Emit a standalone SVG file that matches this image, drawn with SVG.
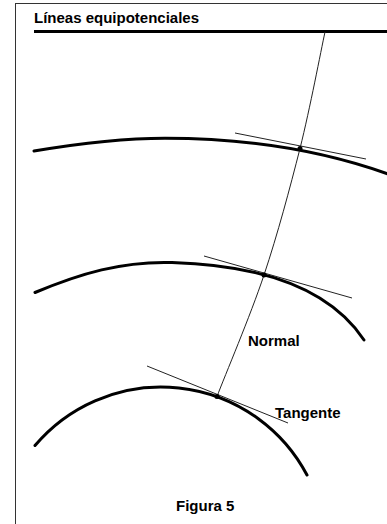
<svg xmlns="http://www.w3.org/2000/svg" width="387" height="524" viewBox="0 0 387 524">
<style>
.t{font-family:"Liberation Sans",Arial,sans-serif;font-weight:bold;font-size:15px;fill:#000}
.arc{fill:none;stroke:#000;stroke-width:3;stroke-linecap:round}
.thin{fill:none;stroke:#222;stroke-width:1}
.dot{fill:#000}
</style>
<rect width="387" height="524" fill="#fff"/>
<g id="frame">
<line x1="15.5" y1="3.5" x2="15.5" y2="524" stroke="#333" stroke-width="1"/>
<line x1="15" y1="3.5" x2="387" y2="3.5" stroke="#333" stroke-width="1"/>
<text class="t" x="34" y="23">Líneas equipotenciales</text>
<line x1="34" y1="31.5" x2="387" y2="31.5" stroke="#000" stroke-width="3"/>
</g>
<g id="equipotential1">
<path class="arc" d="M34,151 C79,143.4 120,138.2 165,138.2 C240,138.2 314,147.3 389,174.3"/>
</g>
<g id="equipotential2">
<path class="arc" d="M35,292.5 C80,273.6 122,261 172,262.5 C242,264.6 324,280 364,340"/>
</g>
<g id="equipotential3">
<path class="arc" d="M35,445.5 A165,165 0 0 1 307,475"/>
</g>
<g id="connectors">
<path class="thin" d="M325,32 C320.8,51.3 310.2,107.5 300,148.5 C289.8,188.5 277.8,233.7 264,275 C250.2,316.3 224.8,375.8 217,396.5"/>
<line class="thin" x1="235" y1="133" x2="366" y2="159"/>
<line class="thin" x1="204" y1="256" x2="352" y2="298"/>
<line class="thin" x1="147" y1="366" x2="288" y2="423"/>
</g>
<g id="points">
<circle class="dot" cx="300" cy="148.5" r="2.5"/>
<circle class="dot" cx="264" cy="275" r="2.5"/>
<circle class="dot" cx="217" cy="396.5" r="2.5"/>
</g>
<g id="labels">
<text class="t" x="248" y="346">Normal</text>
<text class="t" x="275" y="418">Tangente</text>
<text class="t" x="176" y="511">Figura 5</text>
</g>
</svg>
